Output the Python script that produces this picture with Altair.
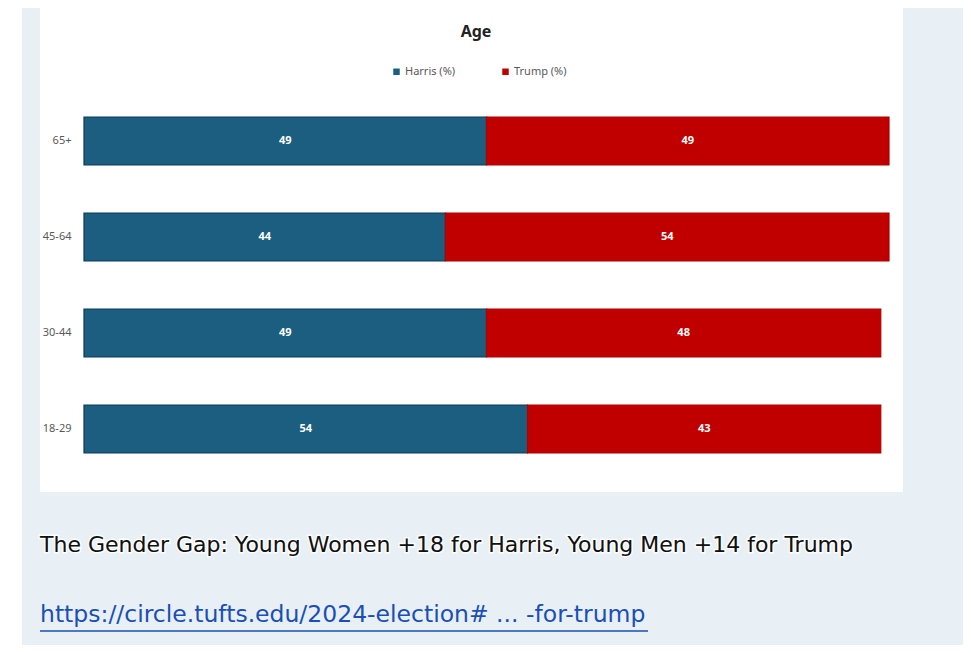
import altair as alt
import pandas as pd

ages = ["65+", "45-64", "30-44", "18-29"]
harris = [49, 44, 49, 54]
trump = [49, 54, 48, 43]
series = ["Harris (%)", "Trump (%)"]
fill_colors = ["#1b5e80", "#c00000"]
edge_colors = ["#0d3a58", "#b00000"]
title_text = "Age"
caption = "The Gender Gap: Young Women +18 for Harris, Young Men +14 for Trump"
link = "https://circle.tufts.edu/2024-election# ... -for-trump"

rows = []
for a, h, t in zip(ages, harris, trump):
    rows.append({"age": a, "party": series[0], "value": h, "order": 0})
    rows.append({"age": a, "party": series[1], "value": t, "order": 1})
df = pd.DataFrame(rows)
one = pd.DataFrame({"d": [0]})

W, H = 805, 384

base = alt.Chart(df).transform_stack(
    stack="value", groupby=["age"], as_=["x0", "x1"], sort=[alt.SortField("order")]
).transform_calculate(mid="(datum.x0 + datum.x1) / 2")

y = alt.Y(
    "age:N", sort=ages,
    scale=alt.Scale(paddingInner=0.5, paddingOuter=0.25),
    axis=alt.Axis(title=None, domain=False, ticks=False, labelPadding=13, zindex=1,
                  labelFontSize=11, labelColor="#595959", labelFont="Noto Sans"),
)
xs = alt.Scale(domain=[0, 98], nice=False, zero=False)

bars = base.mark_bar(strokeWidth=1.2).encode(
    x=alt.X("x0:Q", scale=xs, axis=None),
    x2="x1:Q",
    y=y,
    color=alt.Color(
        "party:N", scale=alt.Scale(domain=series, range=fill_colors),
        legend=alt.Legend(orient="none", legendX=307, legendY=-27, direction="horizontal",
                          title=None, symbolType="square", symbolSize=42,
                          symbolStrokeWidth=0, labelFontSize=11, labelColor="#595959",
                          labelFont="Noto Sans", columnPadding=44, labelOffset=3),
    ),
    stroke=alt.Stroke("party:N", scale=alt.Scale(domain=series, range=edge_colors), legend=None),
)

labels = base.mark_text(color="white", fontWeight="bold", fontSize=11, font="Noto Sans").encode(
    x=alt.X("mid:Q", scale=xs, axis=None),
    y=y,
    text="value:Q",
)

panel = alt.Chart(one).mark_rect(color="white").encode(
    x=alt.value(-44), x2=alt.value(819), y=alt.value(-90), y2=alt.value(399)
)
strip = alt.Chart(one).mark_rect(color="white").encode(
    x=alt.value(-80), x2=alt.value(-62), y=alt.value(-90), y2=alt.value(600)
)
title = alt.Chart(one).mark_text(
    text=title_text, fontSize=16, fontWeight="bold", font="Noto Sans", color="#222222",
    align="center", baseline="middle"
).encode(x=alt.value(392), y=alt.value(-61))

cap_halo = alt.Chart(one).mark_text(
    text=caption, fontSize=22, font="DejaVu Sans", color="#111111", stroke="white",
    strokeWidth=3, strokeOpacity=0.9, align="left", baseline="middle"
).encode(x=alt.value(-44), y=alt.value(452))
cap = alt.Chart(one).mark_text(
    text=caption, fontSize=22, font="DejaVu Sans", color="#111111",
    align="left", baseline="middle"
).encode(x=alt.value(-44), y=alt.value(452))
link_text = alt.Chart(one).mark_text(
    text=link, fontSize=23.5, font="DejaVu Sans", color="#1a4fb5",
    align="left", baseline="middle"
).encode(x=alt.value(-44), y=alt.value(522))
underline = alt.Chart(one).mark_rule(color="#1a4fb5", strokeWidth=1.5).encode(
    x=alt.value(-44), x2=alt.value(564), y=alt.value(538)
)

chart = alt.layer(
    strip, panel, bars, labels, title, cap_halo, cap, link_text, underline
).properties(
    width=W, height=H,
    autosize=alt.AutoSizeParams(type="none"),
    padding={"left": 76, "top": 85, "right": 74, "bottom": 168},
    background="#e8f0f5",
).configure_view(stroke=None)

chart.save("out.html", embed_options={"renderer": "svg", "actions": False})
